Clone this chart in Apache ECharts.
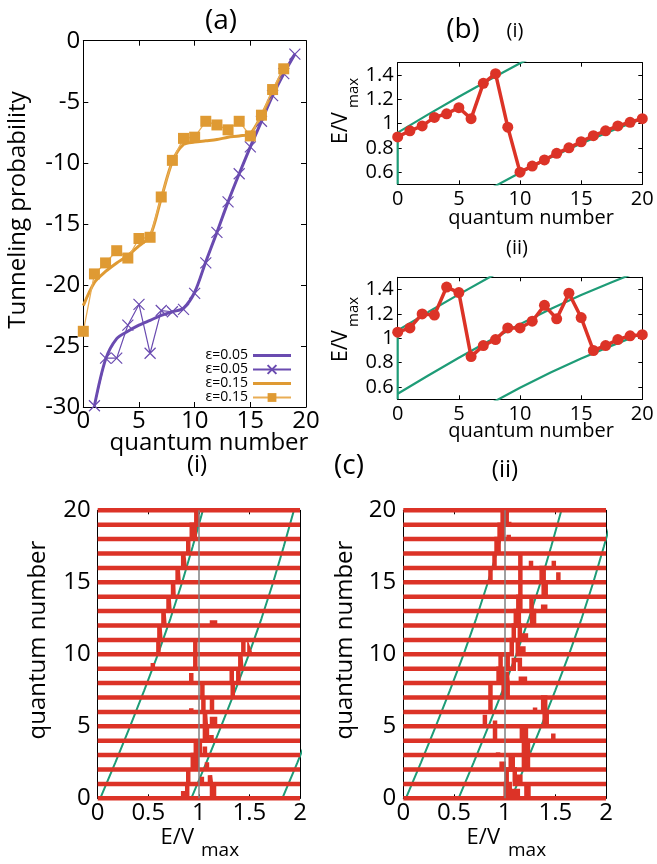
<!DOCTYPE html>
<html><head><meta charset="utf-8">
<script src="https://cdn.jsdelivr.net/npm/echarts@6/dist/echarts.min.js"></script>
<style>html,body{margin:0;padding:0;background:#fff}#c{width:657px;height:864px}</style>
</head><body><div id="c"></div><script>
const FONT = '"Open Sans", sans-serif';
const RED = '#dc3327', GREEN = '#1e9c77', PURPLE = '#6a4bb0', ORANGE = '#df9a33', ORANGE_L = '#e9ad55', GRAY = '#808080';

// ---------- Panel (a): tunneling probability ----------
const quantumA = [0,1,2,3,4,5,6,7,8,9,10,11,12,13,14,15,16,17,18,19];
const e05Smooth = [null,-29.9,-26.1,-24.4,-23.8,-23.3,-22.9,-22.5,-22.2,-21.9,-20.6,-18.1,-15.7,-13.2,-10.9,-8.7,-6.6,-4.5,-2.7,-1.1];
const e05Marks  = [null,-29.9,-26.0,-26.0,-23.3,-21.6,-25.6,-22.1,-22.2,-22.0,-20.7,-18.2,-15.7,-13.2,-10.9,-8.7,-6.6,-4.5,-2.7,-1.1];
const e15Smooth = [-21.7,-19.8,-18.9,-18.2,-17.6,-16.8,-16.0,-12.9,-9.9,-8.5,-8.3,-8.2,-8.1,-7.9,-7.8,-7.6,-6.1,-4.2,-2.3,null];
const e15Marks  = [-23.8,-19.1,-18.2,-17.2,-17.8,-16.2,-16.1,-12.8,-9.8,-8.0,-7.9,-6.6,-6.9,-7.3,-6.6,-7.8,-6.1,-4.0,-2.3,null];

// ---------- Panel (b): energies ----------
const quantumB = [0,1,2,3,4,5,6,7,8,9,10,11,12,13,14,15,16,17,18,19,20];
const energyBi  = [0.89,0.94,0.98,1.05,1.08,1.13,1.04,1.33,1.41,0.97,0.60,0.65,0.70,0.755,0.80,0.85,0.90,0.94,0.98,1.01,1.04];
const energyBii = [1.05,1.085,1.20,1.19,1.42,1.375,0.85,0.94,0.99,1.085,1.085,1.14,1.27,1.16,1.37,1.17,0.90,0.94,0.99,1.02,1.03];
// green resonance curves [q, E]
const greenBi1  = [[0,0.5],[0,0.925],[2.5,1.075],[5,1.22],[7.5,1.36],[10,1.495],[12.5,1.62]];
const greenBi2  = [[0,0.025],[2.5,0.175],[5,0.32],[7.5,0.46],[10,0.595],[12.5,0.72],[15,0.835],[17.5,0.94],[20,1.04]];
const greenBii1 = [[0,0.5],[0,1.065],[2.5,1.215],[5,1.36],[7.5,1.50],[10,1.635]];
const greenBii2 = [[0,0.545],[2.5,0.695],[5,0.84],[7.5,0.98],[10,1.115],[12.5,1.24],[15,1.355],[17.5,1.46],[20,1.56]];
const greenBii3 = [[0,0.025],[2.5,0.175],[5,0.32],[7.5,0.46],[10,0.595],[12.5,0.72],[15,0.835],[17.5,0.94],[20,1.04]];

// ---------- Panel (c): distributions [E, q] ----------
const greenCi1  = [[0.025,0],[0.175,2.5],[0.32,5],[0.46,7.5],[0.595,10],[0.72,12.5],[0.835,15],[0.94,17.5],[1.04,20]];
const greenCi2  = [[0.925,0],[1.075,2.5],[1.22,5],[1.36,7.5],[1.495,10],[1.62,12.5],[1.735,15],[1.84,17.5],[1.94,20]];
const greenCi3  = [[1.825,0],[1.975,2.5],[2.12,5]];
const greenCii1 = [[0.025,0],[0.175,2.5],[0.32,5],[0.46,7.5],[0.595,10],[0.72,12.5],[0.835,15],[0.94,17.5],[1.04,20]];
const greenCii2 = [[0.545,0],[0.695,2.5],[0.84,5],[0.98,7.5],[1.115,10],[1.24,12.5],[1.355,15],[1.46,17.5],[1.56,20]];
const greenCii3 = [[1.065,0],[1.215,2.5],[1.36,5],[1.50,7.5],[1.635,10],[1.76,12.5],[1.875,15],[1.98,17.5],[2.08,20]];
const guideE = 1;
const rowsC = [0,1,2,3,4,5,6,7,8,9,10,11,12,13,14,15,16,17,18,19,20];
// spikes per row: [E left, E right, height]
const spikesCi = [
  [[0.845,0.845,0.5],[0.885,0.885,1],[1.13,1.15,0.9]],
  [[0.895,0.895,1],[1.03,1.03,0.5],[1.11,1.12,0.6]],
  [[0.94,0.98,1],[1.08,1.08,0.5]],
  [[0.97,1.01,0.9],[1.06,1.06,0.6]],
  [[1.06,1.08,1],[1.125,1.125,0.4]],
  [[1.06,1.07,1],[1.13,1.16,0.5]],
  [[0.925,0.925,0.25],[1.045,1.045,1],[1.13,1.13,1]],
  [[1.035,1.035,0.9],[1.335,1.335,1]],
  [[0.925,0.925,0.7],[1.325,1.325,0.9],[1.39,1.39,1]],
  [[0.545,0.545,0.4],[0.965,0.965,1],[1.41,1.42,1]],
  [[0.60,0.60,1],[0.965,0.965,1],[1.44,1.44,1],[1.50,1.51,0.2]],
  [[0.61,0.62,1]],
  [[0.65,0.66,1],[1.13,1.16,0.2]],
  [[0.70,0.71,1]],
  [[0.745,0.75,1]],
  [[0.79,0.80,1]],
  [[0.845,0.86,1]],
  [[0.895,0.895,0.9]],
  [[0.93,0.96,1]],
  [[0.975,0.99,1]],
  []
];
const spikesCii = [
  [[1.01,1.05,1],[1.09,1.13,0.5],[1.215,1.235,0.8]],
  [[1.02,1.10,1],[1.135,1.155,0.5]],
  [[0.97,0.99,0.4],[1.06,1.08,0.8],[1.19,1.23,1]],
  [[0.935,0.935,0.2],[1.19,1.23,1]],
  [[0.905,0.905,1],[1.17,1.21,1],[1.48,1.48,0.5]],
  [[0.805,0.805,0.8],[0.905,0.905,0.4],[1.395,1.415,1]],
  [[0.86,0.86,1],[1.30,1.30,0.3],[1.38,1.40,1]],
  [[0.86,0.86,0.9],[0.99,1.03,1]],
  [[0.94,0.98,1],[1.02,1.03,0.8],[1.16,1.20,0.3]],
  [[0.96,1.03,1],[1.09,1.15,0.6]],
  [[1.07,1.13,1],[1.165,1.185,0.4]],
  [[1.09,1.15,1],[1.19,1.21,0.3]],
  [[1.11,1.14,1],[1.27,1.29,1]],
  [[1.135,1.155,1],[1.265,1.265,1],[1.38,1.40,0.3]],
  [[1.155,1.155,1],[1.385,1.405,1]],
  [[0.86,0.86,1],[1.155,1.155,1],[1.365,1.385,1],[1.53,1.53,0.7]],
  [[0.90,0.90,1],[1.155,1.155,1],[1.26,1.26,0.5],[1.485,1.485,0.5]],
  [[0.92,0.94,1]],
  [[0.95,0.98,1],[1.04,1.04,0.3]],
  [[0.98,1.02,1],[1.045,1.045,0.2]],
  []
];

// ---------- layout ----------
const grids = [
  {left:83.3, top:40.7, width:222.7, height:366.3},
  {left:397.7, top:62.7, width:244.6, height:121.6},
  {left:397.7, top:277.3, width:244.6, height:122},
  {left:97.7, top:510.3, width:202.3, height:288},
  {left:403.3, top:510.3, width:202.7, height:288}
];
const xAxes = [], yAxes = [];
function addAxes(gi, xr, yr, fs, xm, ym, tl) {
  const line = {show:true, onZero:false, lineStyle:{color:'#000', width:1}};
  const tick = {show:true, inside:true, length:tl, lineStyle:{color:'#000', width:1}};
  const lab = (m, extra) => Object.assign({fontSize:fs, fontFamily:FONT, color:'#000', margin:m}, extra||{});
  const mk = (r) => {
    const o = {type:'value', min:r[0], max:r[1], splitLine:{show:false}};
    if (r[2]) o.interval = r[2];
    return o;
  };
  const yExtra = yr[2] ? {} : {showMinLabel:false, showMaxLabel:false};
  xAxes.push(Object.assign(mk(xr), {gridIndex:gi, position:'bottom', axisLine:line, axisTick:tick, axisLabel:lab(xm)}));
  xAxes.push(Object.assign(mk(xr), {gridIndex:gi, position:'top', axisLine:line, axisTick:tick, axisLabel:{show:false}}));
  yAxes.push(Object.assign(mk(yr), {gridIndex:gi, position:'left', axisLine:line, axisTick:tick, axisLabel:lab(ym, yExtra)}));
  yAxes.push(Object.assign(mk(yr), {gridIndex:gi, position:'right', axisLine:line, axisTick:tick, axisLabel:{show:false}}));
}
addAxes(0, [0,20,5], [-30,0,5], 24, 2, 3, 5);
addAxes(1, [0,20,5], [0.5,1.5,null], 20, 5, 4, 4);
addAxes(2, [0,20,5], [0.5,1.5,null], 20, 5, 4, 4);
addAxes(3, [0,2,0.5], [0,20,5], 24, 3, 7, 4);
addAxes(4, [0,2,0.5], [0,20,5], 24, 3, 7, 4);

const pairs = (xs, ys) => xs.map((x,i)=>[x, ys[i]]).filter(p => p[1] !== null && p[1] !== undefined);
const series = [];
const ax = gi => ({xAxisIndex:2*gi, yAxisIndex:2*gi});

// (a)
series.push(Object.assign({type:'line', name:'ε=0.05 smooth', data:pairs(quantumA, e05Smooth), smooth:0.3, symbol:'none',
  lineStyle:{color:PURPLE, width:3}, itemStyle:{color:PURPLE}, z:3}, ax(0)));
series.push(Object.assign({type:'line', name:'ε=0.05 marks', data:pairs(quantumA, e05Marks), symbol:'path://M0 0L10 10M10 0L0 10', symbolSize:11,
  lineStyle:{color:PURPLE, width:1.2}, itemStyle:{color:'rgba(0,0,0,0)', borderColor:PURPLE, borderWidth:1.2}, z:3}, ax(0)));
series.push(Object.assign({type:'line', name:'ε=0.15 smooth', data:pairs(quantumA, e15Smooth), smooth:0.3, symbol:'none',
  lineStyle:{color:ORANGE, width:3}, itemStyle:{color:ORANGE}, z:3}, ax(0)));
series.push(Object.assign({type:'line', name:'ε=0.15 marks', data:pairs(quantumA, e15Marks), symbol:'rect', symbolSize:11,
  lineStyle:{color:ORANGE_L, width:1.3}, itemStyle:{color:ORANGE}, z:4}, ax(0)));

// (b)
function greenSeries(gi, data, extra) {
  return Object.assign({type:'line', data:data, symbol:'none', lineStyle:{color:GREEN, width:2.2}, z:2, silent:true}, extra||{}, ax(gi));
}
series.push(greenSeries(1, greenBi1));
series.push(greenSeries(1, greenBi2));
series.push(Object.assign({type:'line', data:pairs(quantumB, energyBi), symbol:'circle', symbolSize:11,
  lineStyle:{color:RED, width:3.5}, itemStyle:{color:RED}, z:3}, ax(1)));
series.push(greenSeries(2, greenBii1));
series.push(greenSeries(2, greenBii2));
series.push(greenSeries(2, greenBii3));
series.push(Object.assign({type:'line', data:pairs(quantumB, energyBii), symbol:'circle', symbolSize:11,
  lineStyle:{color:RED, width:3.5}, itemStyle:{color:RED}, z:3}, ax(2)));

// (c)
const guideMark = {silent:true, symbol:'none', label:{show:false}, lineStyle:{color:GRAY, width:1.5, type:'solid'}, data:[{xAxis:guideE}]};
series.push(greenSeries(3, greenCi1, {markLine:guideMark, lineStyle:{color:GREEN, width:2}}));
series.push(greenSeries(3, greenCi2, {lineStyle:{color:GREEN, width:2}}));
series.push(greenSeries(3, greenCi3, {lineStyle:{color:GREEN, width:2}}));
series.push(greenSeries(4, greenCii1, {markLine:guideMark, lineStyle:{color:GREEN, width:2}}));
series.push(greenSeries(4, greenCii2, {lineStyle:{color:GREEN, width:2}}));
series.push(greenSeries(4, greenCii3, {lineStyle:{color:GREEN, width:2}}));
function rowPath(q, spikes) {
  const pts = [[0, q]];
  spikes.slice().sort((a,b)=>a[0]-b[0]).forEach(s => {
    pts.push([s[0], q], [s[0], q + s[2]], [s[1], q + s[2]], [s[1], q]);
  });
  pts.push([2, q]);
  return pts;
}
[[3, spikesCi], [4, spikesCii]].forEach(([gi, sp]) => {
  rowsC.forEach((q, i) => {
    series.push(Object.assign({type:'line', data:rowPath(q, sp[i]), symbol:'none', clip:false, silent:true,
      lineStyle:{color:RED, width:4.5, join:'miter', cap:'butt'}, z:3}, ax(gi)));
  });
});

// ---------- texts ----------
function txt(x, y, s, size, o) {
  o = o || {};
  const al = o.align || 'center';
  return {type:'text', x:x, y:y, rotation:o.rot || 0, z:10, silent:true,
    style:{text:s, font:size + 'px ' + FONT, fill:'#000', textAlign:al, align:al, textVerticalAlign:'middle', verticalAlign:'middle'}};
}
const R = Math.PI / 2;
const graphic = [
  txt(221, 21, '(a)', 28),
  txt(463, 30, '(b)', 28),
  txt(515, 31, '(i)', 20),
  txt(517, 248, '(ii)', 20),
  txt(349, 466, '(c)', 28),
  txt(197, 465, '(i)', 24),
  txt(505, 470, '(ii)', 24),
  txt(209, 443, 'quantum number', 24),
  txt(531, 218, 'quantum number', 20),
  txt(531, 431, 'quantum number', 20),
  txt(18, 210, 'Tunneling probability', 24, {rot:R}),
  txt(38, 640, 'quantum number', 24, {rot:R}),
  txt(345, 640, 'quantum number', 24, {rot:R}),
  txt(341, 144, 'E/V', 21, {rot:R, align:'left'}),
  txt(354, 108, 'max', 15, {rot:R, align:'left'}),
  txt(341, 362, 'E/V', 21, {rot:R, align:'left'}),
  txt(354, 327, 'max', 15, {rot:R, align:'left'}),
  txt(194, 838, 'E/V', 22, {align:'right'}),
  txt(201, 851, 'max', 19, {align:'left'}),
  txt(500, 838, 'E/V', 22, {align:'right'}),
  txt(508, 851, 'max', 19, {align:'left'})
];

const BAR_ICON = 'path://M0,0L38,0L38,3L0,3Z';
const chart = echarts.init(document.getElementById('c'), null, {renderer:'canvas'});
chart.setOption({
  animation:false,
  backgroundColor:'#fff',
  grid:grids,
  xAxis:xAxes,
  yAxis:yAxes,
  legend:{
    data:[{name:'ε=0.05 smooth', icon:BAR_ICON}, 'ε=0.05 marks', {name:'ε=0.15 smooth', icon:BAR_ICON}, 'ε=0.15 marks'],
    orient:'vertical', align:'right', right:365, top:348.5, padding:0,
    itemWidth:38, itemHeight:11, itemGap:0,
    formatter: n => n.split(' ')[0],
    textStyle:{fontSize:14, fontFamily:FONT, color:'#000', lineHeight:13.5},
    selectedMode:false
  },
  graphic:graphic,
  series:series
});
</script></body></html>
